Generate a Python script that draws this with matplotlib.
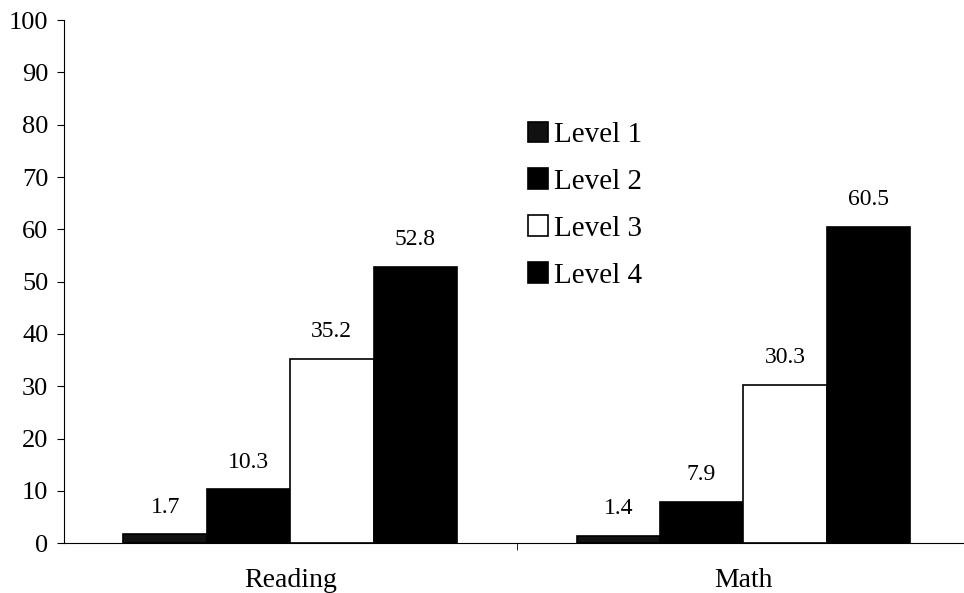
import matplotlib.pyplot as plt
import numpy as np

categories = ["Reading", "Math"]
levels = ["Level 1", "Level 2", "Level 3", "Level 4"]
level1 = [1.7, 1.4]
level2 = [10.3, 7.9]
level3 = [35.2, 30.3]
level4 = [52.8, 60.5]

plt.rcParams['font.family'] = ['Liberation Serif', 'DejaVu Serif']

fig = plt.figure(figsize=(9.64, 5.93), dpi=100)
ax = fig.add_axes([0.066, 0.084, 0.94, 0.882])

series = [level1, level2, level3, level4]
faces = ['#111111', 'black', 'white', 'black']
x = np.arange(len(categories))
w = 0.184
for i, (vals, fc) in enumerate(zip(series, faces)):
    pos = x + (i - 1.5) * w
    bars = ax.bar(pos, vals, w, color=fc, edgecolor='black', linewidth=1.2, label=levels[i])
    for b, v in zip(bars, vals):
        ax.text(b.get_x() + b.get_width() / 2, v + 3.2, f"{v}", ha='center', va='bottom', fontsize=17)

ax.set_xlim(-0.5, 1.5)
ax.set_ylim(0, 100)
ax.set_yticks(range(0, 101, 10))
ax.tick_params(axis='y', labelsize=19, direction='out', length=5, pad=6)
ax.set_xticks(x)
ax.set_xticklabels(categories, fontsize=20)
ax.tick_params(axis='x', length=0, pad=18)
ax.set_xticks([0.5, 1.5], minor=True)
ax.tick_params(axis='x', which='minor', length=5, direction='out')
ax.spines['top'].set_visible(False)
ax.spines['right'].set_visible(False)

ax.legend(loc='upper left', bbox_to_anchor=(0.49, 0.845), frameon=False, fontsize=21,
          handlelength=0.7, handleheight=0.7, handletextpad=0.2, labelspacing=0.7,
          borderpad=0.2)

fig.savefig("out.png")
